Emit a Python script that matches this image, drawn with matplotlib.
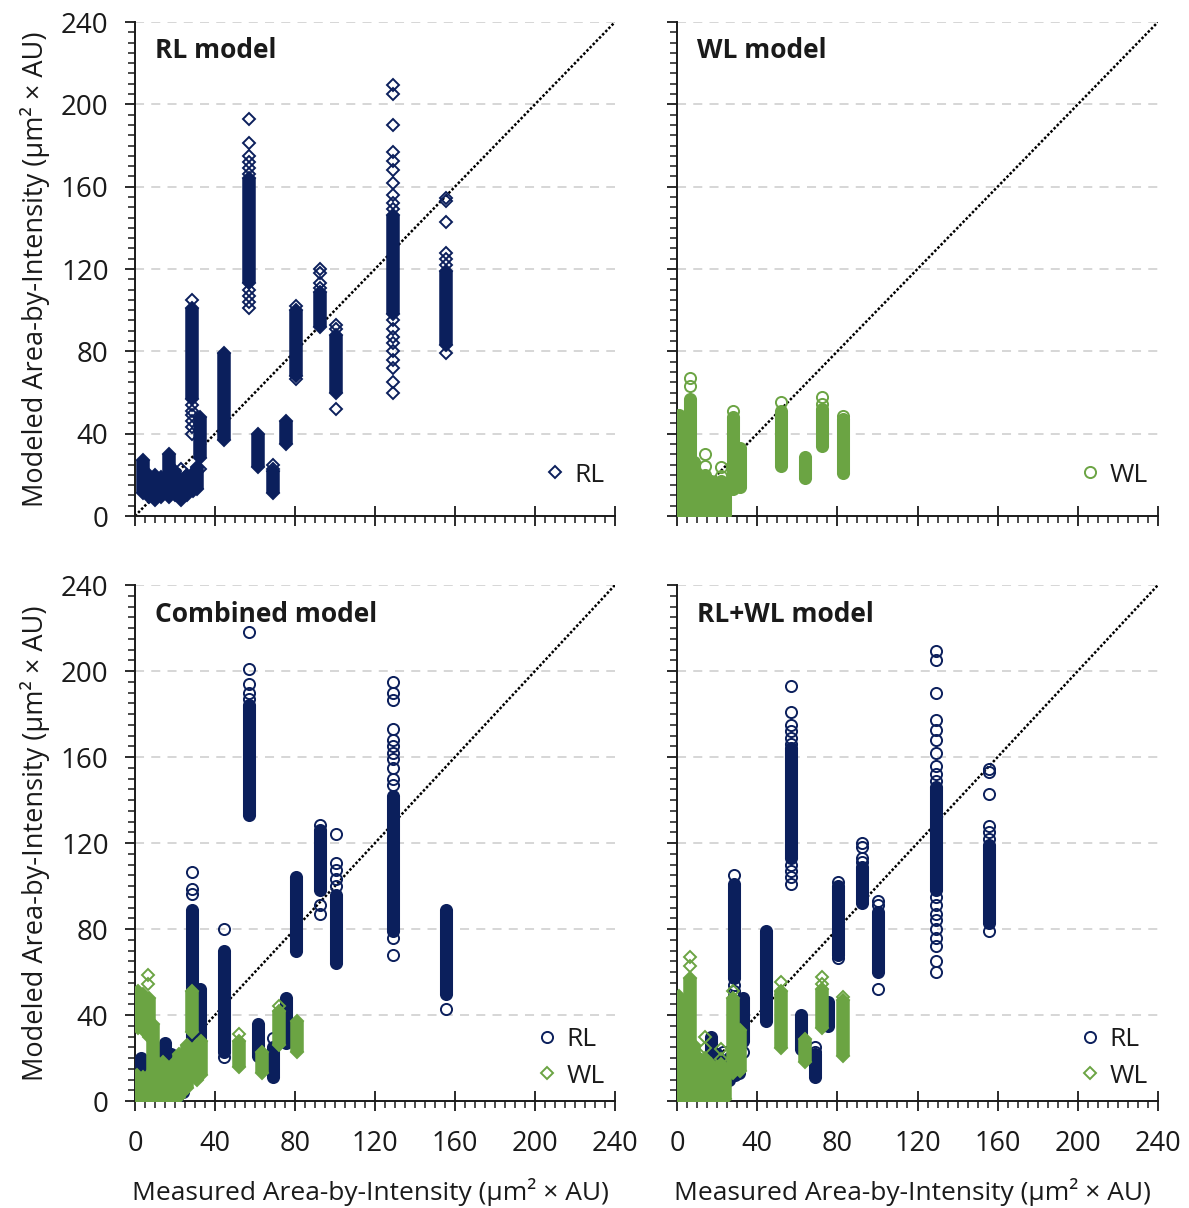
import matplotlib
matplotlib.use("Agg")
import matplotlib.pyplot as plt
from matplotlib.lines import Line2D
from matplotlib.ticker import MultipleLocator

NAVY = "#0b1f5c"
GREEN = "#6ba443"
GRID = "#d3d3d3"
TXT = "#1a1a1a"

# ---- RL model (dense column ranges + single visible points) ----
rl_col_x = [4, 7, 10, 13, 17, 20, 23, 26, 29, 31,
            28.5, 32.7, 44.5, 57, 61.7, 69.1, 75.5, 80.5, 92.3, 100.3, 129.2, 155.7]
rl_col_lo = [11, 9, 8, 9, 9, 10, 8, 10, 12, 13,
             57, 28, 37, 113, 24, 11, 35, 68, 92, 60, 98, 83]
rl_col_hi = [27, 20, 20, 19, 30, 22, 17, 20, 21, 24,
             101, 48, 79, 164, 40, 22, 46, 100, 109, 88, 146, 119]
rl_pts_x = [23, 28.5, 28.5, 28.5, 28.5, 28.5, 28.5, 28.5, 32.7,
            57, 57, 57, 57, 57, 57, 57, 57, 57, 57,
            69.1, 69.1, 80.5, 80.5, 92.3, 92.3, 92.3, 92.3, 100.3, 100.3, 100.3,
            129.2, 129.2, 129.2, 129.2, 129.2, 129.2, 129.2, 129.2, 129.2, 129.2,
            129.2, 129.2, 129.2, 129.2, 129.2, 129.2, 129.2, 129.2, 129.2,
            155.7, 155.7, 155.7, 155.7, 155.7, 155.7, 155.7]
rl_pts_y = [23, 105, 54, 51, 49, 46, 43, 40, 23,
            193, 181, 175, 172, 169, 166, 110, 107, 104, 101,
            25, 23, 102, 66.5, 120, 118, 113, 111, 93, 91, 52,
            209.5, 205, 190, 177, 172.5, 168, 162, 156, 152, 149,
            95, 91, 87, 84, 80, 76, 72, 65, 60,
            154.5, 153, 143, 128, 125, 122, 79]

# ---- WL model ----
wl_col_x = [1, 2.5, 4, 6.5, 8.5, 11, 14, 17, 20, 22, 24,
            28, 31.5, 51.7, 63.8, 72.4, 82.9]
wl_col_lo = [1, 1, 1, 1, 1, 1, 1, 1, 1, 1, 1,
             13, 14, 24.5, 18.3, 34, 21]
wl_col_hi = [49, 46, 42, 57, 26, 20, 20, 17, 16, 17, 12,
             48, 33, 51, 28.8, 52, 47]
wl_pts_x = [6.5, 6.5, 14, 14, 21.8, 21.8, 28, 51.7, 72.4, 72.4, 82.9]
wl_pts_y = [67, 63, 30, 24.5, 24, 19.5, 51, 55.5, 57.7, 54.5, 48.5]

# ---- Combined model, RL points ----
crl_col_x = [3, 6, 9, 12, 15, 18, 21, 24,
             28.5, 32.7, 44.5, 57, 61.7, 69.1, 75.5, 80.5, 92.3, 100.3, 129.2, 155.7]
crl_col_lo = [5, 4, 4, 4, 6, 4, 2, 4,
              30, 20, 23, 133, 21, 11, 27, 70, 98, 64, 79, 50]
crl_col_hi = [20, 14, 18, 24, 27, 22, 16, 18,
              89, 52, 70, 184, 36, 25, 48, 104, 126, 96, 142, 89]
crl_pts_x = [28.5, 28.5, 28.5, 44.5, 44.5,
             57, 57, 57, 57, 57, 69.1,
             92.3, 92.3, 92.3, 100.3, 100.3, 100.3, 100.3, 100.3,
             129.2, 129.2, 129.2, 129.2, 129.2, 129.2, 129.2, 129.2, 129.2, 129.2,
             129.2, 129.2, 129.2, 155.7]
crl_pts_y = [106.6, 98.6, 96.5, 80, 20.6,
             218, 201, 194, 190, 187, 29.5,
             128.5, 91.3, 87, 124, 110.6, 107.4, 103.4, 100,
             194.7, 190, 186.5, 173, 168, 165, 162, 159, 155, 150, 147, 76, 68, 43]

# ---- Combined model, WL points ----
cwl_col_x = [1.5, 4, 7, 9, 1, 4, 7, 10, 12, 14, 16, 18, 20, 22, 24, 26,
             28.5, 31, 33, 52, 63.5, 72.2, 81]
cwl_col_lo = [34, 33, 30, 14, 1, 1, 1, 1, 1, 1, 1, 1, 2, 2, 4, 6,
              32, 10, 12, 16, 13, 26, 23]
cwl_col_hi = [51, 50, 48, 36, 12, 11, 12, 10, 17, 18, 14, 12, 18, 22, 22, 26,
              51, 26, 28, 28, 23, 42, 37]
cwl_pts_x = [6.5, 6.5, 52, 72.2]
cwl_pts_y = [58.4, 54.5, 31, 44]

panel_titles = ["RL model", "WL model", "Combined model", "RL+WL model"]
y_label = "Modeled Area-by-Intensity (\u00b5m\u00b2 \u00d7 AU)"
x_label = "Measured Area-by-Intensity (\u00b5m\u00b2 \u00d7 AU)"

plt.rcParams["font.family"] = ["Open Sans", "DejaVu Sans"]

MS = {"o": 8.0, "D": 5.9}
MEW = 1.4


def body_width(marker):
    if marker == "D":
        return MS["D"] * 1.414 + MEW
    return MS["o"] + MEW


def draw_series(ax, col_x, col_lo, col_hi, pts_x, pts_y, color, marker):
    w = body_width(marker)
    for x, lo, hi in zip(col_x, col_lo, col_hi):
        ax.plot([x, x], [lo, hi], color=color, lw=w, solid_capstyle="butt", zorder=3)
        ax.plot([x, x], [lo, hi], ls="none", marker=marker, ms=MS[marker],
                mfc=color, mec=color, mew=MEW, zorder=3)
    ax.plot(pts_x, pts_y, ls="none", marker=marker, ms=MS[marker],
            mfc="none", mec=color, mew=MEW, zorder=3)


def legend_handle(marker, color):
    return Line2D([], [], ls="none", marker=marker, ms=MS[marker],
                  mfc="none", mec=color, mew=MEW)


def add_legend(ax, handles, labels, y):
    ax.legend(handles, labels, loc="lower right", bbox_to_anchor=(1.017, y),
              frameon=False, fontsize=19, borderpad=0.2, handlelength=0.8,
              handletextpad=0.35, labelspacing=0.45, labelcolor=TXT)


fig = plt.figure(figsize=(11.89, 12.08), dpi=100)
W, H = 1189, 1208
pos = [
    (135 / W, 1 - 516 / H, 480 / W, 494 / H),
    (677 / W, 1 - 516 / H, 481 / W, 494 / H),
    (135 / W, 1 - 1101 / H, 480 / W, 516 / H),
    (677 / W, 1 - 1101 / H, 481 / W, 516 / H),
]
axes = [fig.add_axes(p) for p in pos]

for i, ax in enumerate(axes):
    ax.set_xlim(0, 240)
    ax.set_ylim(0, 240)
    for s in ["top", "right"]:
        ax.spines[s].set_visible(False)
    for s in ["left", "bottom"]:
        ax.spines[s].set_linewidth(1.4)
        ax.spines[s].set_color(TXT)
    ax.xaxis.set_major_locator(MultipleLocator(40))
    ax.yaxis.set_major_locator(MultipleLocator(40))
    ax.xaxis.set_minor_locator(MultipleLocator(5))
    ax.yaxis.set_minor_locator(MultipleLocator(5))
    ax.tick_params(axis="y", which="major", direction="out", length=7, width=1.3,
                   color=TXT, labelsize=20, pad=12, labelcolor=TXT)
    ax.tick_params(axis="y", which="minor", direction="out", length=5, width=1.1, color=TXT)
    ax.tick_params(axis="x", which="major", direction="inout", length=14, width=1.3,
                   color=TXT, labelsize=19.5, pad=14, labelcolor=TXT)
    ax.tick_params(axis="x", which="minor", direction="out", length=5, width=1.1, color=TXT)
    for g in [40, 80, 120, 160, 200, 240]:
        ax.axhline(g, color=GRID, lw=1.3, ls=(0, (5, 4)), zorder=0)
    ax.plot([0, 240], [0, 240], color="black", lw=1.8, ls=(0, (1.0, 0.8)), zorder=2)
    ax.text(0.042, 0.943, panel_titles[i], transform=ax.transAxes, fontsize=19,
            fontweight="bold", color=TXT, va="center", ha="left")
    if i in (0, 2):
        ax.set_ylabel(y_label, fontsize=19.5, color=TXT, labelpad=8)
    else:
        ax.set_yticklabels([])
    if i in (2, 3):
        ax.set_xlabel(x_label, fontsize=19, color=TXT)
        ax.xaxis.set_label_coords(0.49, -0.150)
    else:
        ax.set_xticklabels([])

# panel 1: RL model
draw_series(axes[0], rl_col_x, rl_col_lo, rl_col_hi, rl_pts_x, rl_pts_y, NAVY, "D")
add_legend(axes[0], [legend_handle("D", NAVY)], ["RL"], 0.02)

# panel 2: WL model
draw_series(axes[1], wl_col_x, wl_col_lo, wl_col_hi, wl_pts_x, wl_pts_y, GREEN, "o")
add_legend(axes[1], [legend_handle("o", GREEN)], ["WL"], 0.02)

# panel 3: Combined model
draw_series(axes[2], crl_col_x, crl_col_lo, crl_col_hi, crl_pts_x, crl_pts_y, NAVY, "o")
draw_series(axes[2], cwl_col_x, cwl_col_lo, cwl_col_hi, cwl_pts_x, cwl_pts_y, GREEN, "D")
add_legend(axes[2], [legend_handle("o", NAVY), legend_handle("D", GREEN)], ["RL", "WL"], -0.012)

# panel 4: RL+WL model
draw_series(axes[3], rl_col_x, rl_col_lo, rl_col_hi, rl_pts_x, rl_pts_y, NAVY, "o")
draw_series(axes[3], wl_col_x, wl_col_lo, wl_col_hi, wl_pts_x, wl_pts_y, GREEN, "D")
add_legend(axes[3], [legend_handle("o", NAVY), legend_handle("D", GREEN)], ["RL", "WL"], -0.012)

fig.savefig("out.png", dpi=100)
